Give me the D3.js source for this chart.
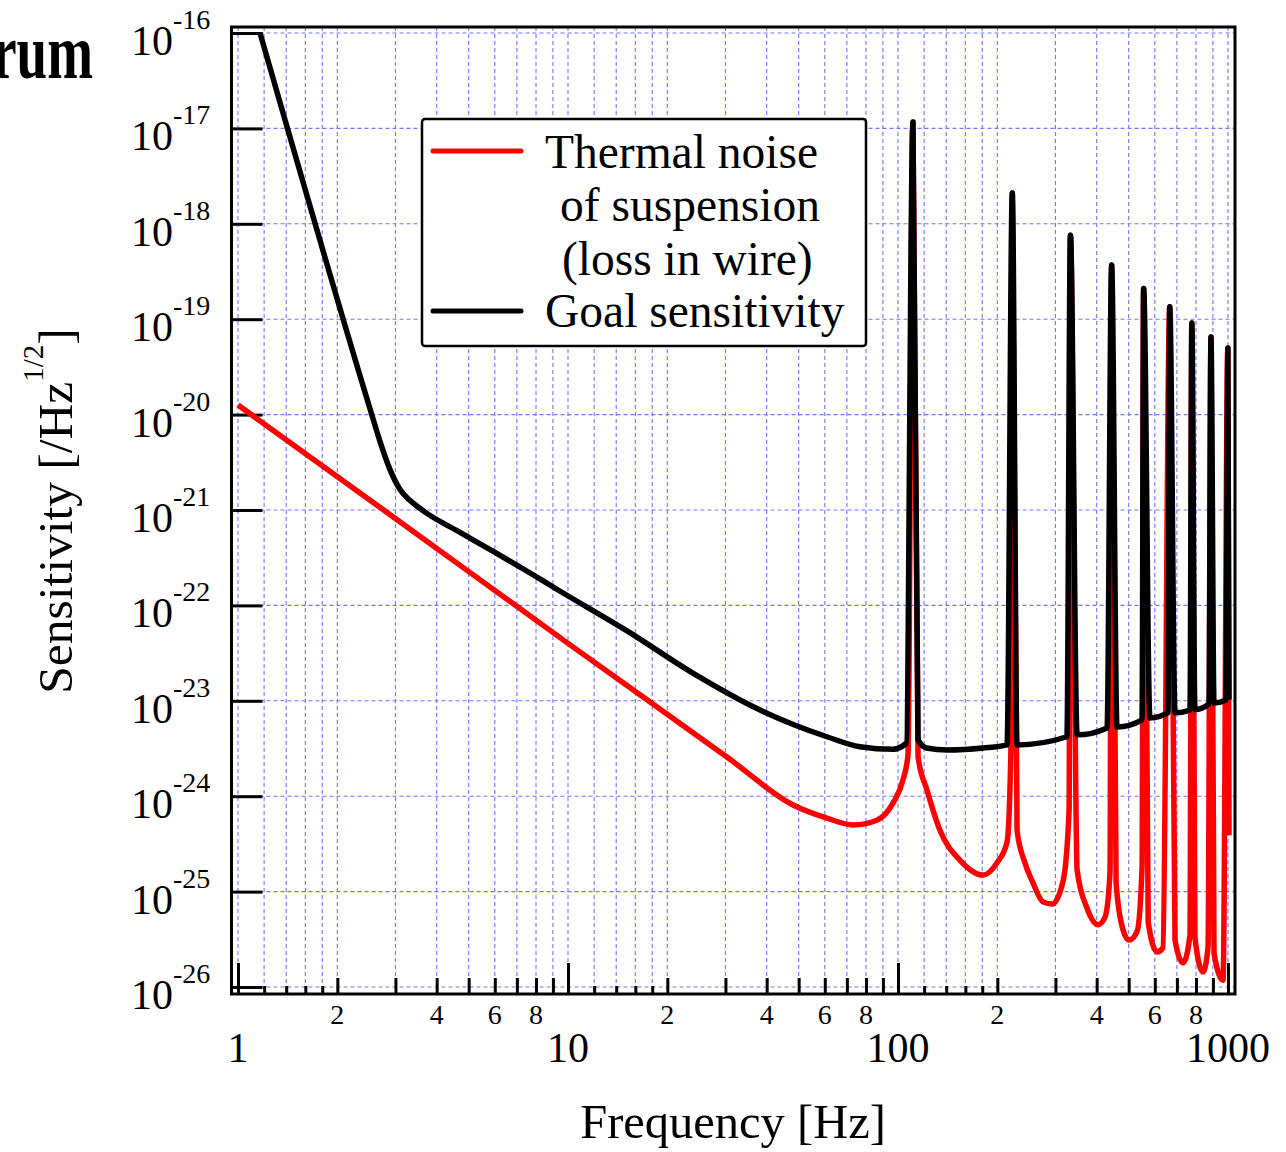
<!DOCTYPE html>
<html>
<head>
<meta charset="utf-8">
<script src="https://cdn.jsdelivr.net/npm/d3@7"></script>
<style>
  body { margin: 0; background: #fff; }
  svg { display: block; font-family: 'Liberation Serif', 'Times New Roman', serif; }
</style>
</head>
<body>
<svg id="chart" width="1286" height="1152"></svg>
<script>
// thermal noise of suspension (loss in wire)
const thermalFreq = [
  1, 3.1, 10, 30.3, 48.1, 60.9, 73.1, 86.3, 96.6, 103.5, 107.2,
  111, 115, 122.4, 134, 154, 181, 199.5, 214, 220,
  222, 229.5, 242.5, 256.6, 275, 293, 316, 330,
  333, 349, 374, 404, 424, 439,
  444, 458, 481, 501, 530, 549,
  555, 573, 610, 635,
  666, 691, 731, 767,
  777, 794, 840, 870,
  888, 907, 966,
  999, 1007
];
const thermalNoise = [
  1.26e-20, 7.5e-22, 4.0e-23, 2.58e-24, 8.1e-25, 5.9e-25, 5.0e-25, 5.6e-25, 8.5e-25, 1.48e-24, 2.7e-24,
  1.17e-17, 2.6e-24, 1.16e-24, 4.4e-25, 2.14e-25, 1.49e-25, 2.0e-25, 3.3e-25, 3.3e-24,
  2.1e-18, 4.4e-25, 2.0e-25, 1.23e-25, 7.8e-26, 7.4e-26, 1.26e-25, 7.2e-25,
  7.6e-19, 1.68e-25, 6.7e-26, 4.5e-26, 5.4e-26, 1.57e-25,
  3.7e-19, 1.23e-25, 3.95e-26, 3.1e-26, 3.8e-26, 1.8e-25,
  2.1e-19, 4.8e-26, 2.33e-26, 2.57e-26,
  1.35e-19, 3.1e-26, 1.79e-26, 3.5e-26,
  9.1e-20, 3.3e-26, 1.44e-26, 2.63e-26,
  6.5e-20, 2.27e-26, 1.18e-26,
  5.0e-20, 3.9e-25
];

// goal sensitivity
const goalFreq = [
  1.166, 2.512, 2.69, 2.884, 3.09, 3.31, 3.55, 3.69, 4.64, 5.88, 7.41, 9.33, 15.1, 23.9, 38.2, 60.9, 76.7, 96.6, 106,
  111, 115, 122, 141, 181, 214,
  222, 229.5, 325,
  333, 349, 430,
  444, 461, 549,
  555, 580, 658,
  666, 691, 767,
  777, 794, 876,
  888, 907, 986,
  999, 1007
];
const goalSensitivity = [
  1e-16, 1.15e-20, 5.3e-21, 2.68e-21, 1.66e-21, 1.27e-21, 1.05e-21, 9.5e-22, 6.0e-22, 3.75e-22, 2.35e-22, 1.45e-22, 5.4e-23, 1.95e-23, 8.0e-24, 4.2e-24, 3.3e-24, 3.1e-24, 3.6e-24,
  1.17e-17, 3.9e-24, 3.2e-24, 3.05e-24, 3.2e-24, 3.45e-24,
  2.1e-18, 3.45e-24, 4.2e-24,
  7.6e-19, 4.4e-24, 5.2e-24,
  3.7e-19, 5.3e-24, 6.3e-24,
  2.1e-19, 6.6e-24, 7.5e-24,
  1.35e-19, 7.5e-24, 8.0e-24,
  9.1e-20, 8.1e-24, 9.3e-24,
  6.5e-20, 9.5e-24, 1.02e-23,
  5.0e-20, 1.03e-23
];

// ticks / labels
const decades = [1, 10, 100];
const majorFreqs = [1, 10, 100, 1000];
const majorLabels = ['1', '10', '100', '1000'];
const minorMults = [2, 3, 4, 5, 6, 7, 8, 9];
const smallMults = [1.2, 1.4, 1.6, 1.8];
const minorLabelMults = [2, 4, 6, 8];
const yExponents = [-16, -17, -18, -19, -20, -21, -22, -23, -24, -25, -26];

const size = { width: 1286, height: 1152 };
const frame = { left: 231.5, top: 27, right: 1235, bottom: 994 };

const svg = d3.select('#chart');
svg.append('rect').attr('width', size.width).attr('height', size.height).attr('fill', '#fff');

const x = d3.scaleLog().domain([1, 1000]).range([238, 1228]);
const y = d3.scaleLog().domain([1e-26, 1e-16]).range([987, 33]);

const yDecades = yExponents.map(e => Math.pow(10, e));
const minorFreqs = decades.flatMap(d => minorMults.map(m => d * m));
const smallFreqs = decades.flatMap(d => smallMults.map(m => d * m));
const gridFreqs = majorFreqs.concat(minorFreqs, smallFreqs);

// dashed blue grid
const grid = svg.append('g')
  .attr('stroke', '#7474ff')
  .attr('stroke-width', 1.1)
  .attr('stroke-dasharray', '4,3');
grid.selectAll('.vgrid')
  .data(gridFreqs)
  .join('line')
  .attr('class', 'vgrid')
  .attr('x1', d => x(d)).attr('x2', d => x(d))
  .attr('y1', frame.top).attr('y2', frame.bottom);
grid.selectAll('.hgrid')
  .data(yDecades)
  .join('line')
  .attr('class', 'hgrid')
  .attr('x1', frame.left).attr('x2', frame.right)
  .attr('y1', d => y(d)).attr('y2', d => y(d));

// ticks pointing inward, drawn with d3 axes
const tickStyle = g =>
{
  g.select('.domain').remove();
  g.selectAll('.tick line').attr('stroke', '#000').attr('stroke-width', 3);
  g.selectAll('.tick text').remove();
};
const bottom = [[majorFreqs, 31], [minorFreqs, 16], [smallFreqs, 8]];
bottom.forEach(([vals, len]) =>
{
  svg.append('g')
    .attr('transform', `translate(0,${ frame.bottom })`)
    .call(d3.axisBottom(x).tickValues(vals).tickSize(-len).tickFormat(''))
    .call(tickStyle);
});
svg.append('g')
  .attr('transform', `translate(${ frame.left },0)`)
  .call(d3.axisLeft(y).tickValues(yDecades).tickSize(-31).tickFormat(''))
  .call(tickStyle);

// curves
svg.append('clipPath').attr('id', 'plot-clip')
  .append('rect')
  .attr('x', frame.left).attr('y', frame.top)
  .attr('width', frame.right - frame.left).attr('height', frame.bottom - frame.top);

const line = d3.line()
  .x(d => x(d[0]))
  .y(d => y(d[1]))
  .curve(d3.curveMonotoneX);

svg.append('path')
  .datum(d3.zip(thermalFreq, thermalNoise))
  .attr('clip-path', 'url(#plot-clip)')
  .attr('fill', 'none')
  .attr('stroke', '#ff0000')
  .attr('stroke-width', 5.5)
  .attr('stroke-linejoin', 'round')
  .attr('d', line);

svg.append('path')
  .datum(d3.zip(goalFreq, goalSensitivity))
  .attr('clip-path', 'url(#plot-clip)')
  .attr('fill', 'none')
  .attr('stroke', '#000')
  .attr('stroke-width', 5.5)
  .attr('stroke-linejoin', 'round')
  .attr('d', line);

// frame
svg.append('rect')
  .attr('x', frame.left).attr('y', frame.top)
  .attr('width', frame.right - frame.left).attr('height', frame.bottom - frame.top)
  .attr('fill', 'none')
  .attr('stroke', '#000')
  .attr('stroke-width', 3);

// legend
const legend = svg.append('g');
legend.append('rect')
  .attr('x', 422).attr('y', 119).attr('width', 444).attr('height', 227).attr('rx', 3)
  .attr('fill', '#fff').attr('stroke', '#000').attr('stroke-width', 2.5);
[['#ff0000', 151], ['#000', 311]].forEach(([c, ly]) =>
{
  legend.append('line')
    .attr('x1', 433).attr('x2', 521).attr('y1', ly).attr('y2', ly)
    .attr('stroke', c).attr('stroke-width', 5).attr('stroke-linecap', 'round');
});
const legendText = [
  ['Thermal noise', 545, 168],
  ['of suspension', 560, 221],
  ['(loss in wire)', 562, 275],
  ['Goal sensitivity', 545, 327]
];
legend.selectAll('text')
  .data(legendText)
  .join('text')
  .attr('x', d => d[1]).attr('y', d => d[2])
  .attr('font-size', 47.5)
  .text(d => d[0]);

// x tick labels
svg.append('g').selectAll('text')
  .data(majorFreqs)
  .join('text')
  .attr('x', d => x(d)).attr('y', 1062)
  .attr('text-anchor', 'middle')
  .attr('font-size', 42)
  .text((d, i) => majorLabels[i]);

const minorLabelFreqs = decades.flatMap(d => minorLabelMults.map(m => ({ f: d * m, label: String(m) })));
svg.append('g').selectAll('text')
  .data(minorLabelFreqs)
  .join('text')
  .attr('x', d => x(d.f)).attr('y', 1024)
  .attr('text-anchor', 'middle')
  .attr('font-size', 28)
  .text(d => d.label);

// y tick labels 10^n
const yLab = svg.append('g').selectAll('text')
  .data(yExponents)
  .join('text')
  .attr('x', 131).attr('y', d => y(Math.pow(10, d)) + 22)
  .attr('font-size', 42);
yLab.append('tspan').text('10');
yLab.append('tspan').attr('dy', -26).attr('font-size', 28).text(d => String(d));

// axis titles
svg.append('text')
  .attr('x', 733).attr('y', 1138)
  .attr('text-anchor', 'middle')
  .attr('font-size', 48.5)
  .text('Frequency [Hz]');

const yTitle = svg.append('text')
  .attr('transform', 'translate(72,511) rotate(-90)')
  .attr('text-anchor', 'middle')
  .attr('font-size', 49.5);
yTitle.append('tspan').text('Sensitivity [/Hz');
yTitle.append('tspan').attr('dy', -29).attr('font-size', 29).text('1/2');
yTitle.append('tspan').attr('dy', 29).text(']');

// clipped title at top-left
svg.append('text')
  .attr('transform', 'translate(93,78) scale(1,1.43)')
  .attr('text-anchor', 'end')
  .attr('font-size', 55)
  .attr('font-weight', 'bold')
  .text('Spectrum');
</script>
</body>
</html>
